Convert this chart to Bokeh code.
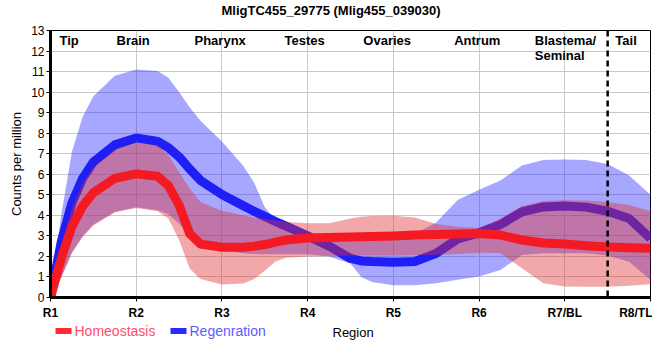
from bokeh.plotting import figure
from bokeh.layouts import column
from bokeh.models import Range1d, FixedTicker, Span, ColumnDataSource
from bokeh.embed import file_html
from bokeh.resources import INLINE
from bokeh.core.properties import value

# ---------------- data ----------------
title_text = "MligTC455_29775 (Mlig455_039030)"
x_title = "Region"
y_title = "Counts per million"
tick_labels = ["R1", "R2", "R3", "R4", "R5", "R6", "R7/BL", "R8/TL"]
region_names = ["Tip", "Brain", "Pharynx", "Testes", "Ovaries", "Antrum", "Blastema/\nSeminal", "Tail"]
series_names = ["Homeostasis", "Regenration"]

region_pos = [0, 0.125, 0.25, 0.375, 0.5, 0.75, 1.0, 1.25, 1.375, 1.5, 1.625, 1.75,
              2.0, 2.25, 2.375, 2.5, 2.625, 2.75, 3.0, 3.25, 3.5, 3.625, 3.75, 4.0,
              4.25, 4.5, 4.75, 5.0, 5.25, 5.5, 5.75, 6.0, 6.25, 6.5, 6.75, 7.0]

homeo_mean = [0, 1.9, 3.45, 4.45, 5.1, 5.8, 6.02, 5.9, 5.45, 4.5, 3.1, 2.6,
              2.45, 2.45, 2.5, 2.58, 2.7, 2.8, 2.9, 2.92, 2.95, 2.96, 2.97, 3.0,
              3.04, 3.07, 3.09, 3.12, 3.04, 2.8, 2.65, 2.6, 2.52, 2.46, 2.42, 2.4]
homeo_upper = [0, 2.5, 4.35, 5.55, 6.35, 7.2, 7.55, 7.4, 6.95, 6.1, 5.3, 4.65,
               4.22, 4.0, 3.9, 3.82, 3.75, 3.68, 3.62, 3.62, 3.85, 3.93, 3.97, 3.98,
               3.9, 3.58, 3.44, 3.38, 3.85, 4.46, 4.7, 4.73, 4.72, 4.65, 4.5, 4.2]
homeo_lower = [0, 0.95, 2.15, 2.95, 3.5, 4.14, 4.36, 4.2, 3.85, 2.8, 1.4, 0.9,
               0.63, 0.68, 0.9, 1.3, 1.75, 1.94, 2.0, 2.02, 2.04, 2.04, 2.04, 2.04,
               2.06, 2.08, 2.12, 2.18, 2.15, 1.42, 0.69, 0.53, 0.52, 0.52, 0.57, 0.65]

regen_mean = [0, 2.7, 4.6, 5.8, 6.6, 7.43, 7.77, 7.6, 7.3, 6.85, 6.25, 5.7,
              5.02, 4.47, 4.2, 3.95, 3.7, 3.47, 3.0, 2.5, 1.9, 1.78, 1.75, 1.72,
              1.75, 2.15, 2.85, 3.15, 3.55, 4.17, 4.41, 4.46, 4.4, 4.2, 3.85, 2.88]
regen_upper = [0, 4.0, 7.1, 8.8, 9.8, 10.8, 11.1, 11.03, 10.7, 10.0, 9.25, 8.6,
               7.6, 6.4, 5.6, 4.4, 3.75, 3.45, 3.15, 3.05, 3.0, 3.0, 3.0, 3.0,
               3.1, 3.65, 4.75, 5.25, 5.7, 6.43, 6.7, 6.72, 6.7, 6.5, 5.94, 5.0]
regen_lower = [0, 1.0, 2.2, 3.0, 3.55, 4.18, 4.4, 4.25, 4.05, 3.6, 3.0, 2.6,
               2.3, 2.15, 2.12, 2.1, 2.1, 2.1, 2.1, 2.0, 1.65, 1.0, 0.75, 0.6,
               0.6, 0.69, 0.86, 1.02, 1.34, 2.07, 2.15, 2.15, 2.15, 2.04, 1.74, 0.86]

tail_boundary = 6.5

# ---------------- layout / style ----------------
FONT = "Liberation Sans"
RED_LINE, BLUE_LINE = "#F41A24", "#1E1EF5"
label_x = [0.105, 0.77, 1.68, 2.73, 3.65, 4.71, 5.65, 6.59]
label_y = [12.88] * len(region_names)
W = 652
FRAME_L, FRAME_R = 50, 650   # frame edges in pixels; strips share them


def strip_fig(h):
    f = figure(width=W, height=h, output_backend="svg", toolbar_location=None,
               x_range=Range1d(FRAME_L, FRAME_R), y_range=Range1d(h, 0),
               x_axis_location=None, y_axis_location=None,
               min_border_left=FRAME_L, min_border_right=W - FRAME_R,
               min_border_top=0, min_border_bottom=0, outline_line_color=None)
    f.grid.visible = False
    f.background_fill_color = "white"
    f.border_fill_color = "white"
    return f


# title strip
top = strip_fig(18)
top.text(x=[330.5], y=[9.5], text=[title_text], text_font=value(FONT), text_font_size="13px",
         text_font_style="bold", text_color="black", text_align="center", text_baseline="middle")

p = figure(width=W, height=304, output_backend="svg", toolbar_location=None,
           x_range=Range1d(0, len(tick_labels) - 1), y_range=Range1d(0, 13),
           min_border_left=FRAME_L, min_border_right=W - FRAME_R,
           min_border_top=12, min_border_bottom=23)

p.background_fill_color = "white"
p.border_fill_color = "white"
p.outline_line_color = "black"
p.outline_line_width = 1

# grids
p.xgrid.ticker = FixedTicker(ticks=list(range(len(tick_labels))))
p.ygrid.ticker = FixedTicker(ticks=list(range(14)))
p.grid.grid_line_color = "#C8C8C8"
p.grid.grid_line_width = 1

# bands and means
p.varea(x=region_pos, y1=regen_lower, y2=regen_upper, fill_color="#3333FF", fill_alpha=0.43)
p.line(region_pos, regen_mean, line_color=BLUE_LINE, line_width=9, line_join="round")
p.varea(x=region_pos, y1=homeo_lower, y2=homeo_upper, fill_color="#E03030", fill_alpha=0.42)
p.line(region_pos, homeo_mean, line_color=RED_LINE, line_width=9, line_join="round")

p.add_layout(Span(location=tail_boundary, dimension="height", line_color="black",
                  line_width=2.5, line_dash="6 4"))

# region labels
src = ColumnDataSource(dict(x=label_x, y=label_y, t=region_names))
p.text(x="x", y="y", text="t", source=src, text_font=value(FONT), text_font_size="13px",
       text_font_style="bold", text_color="black", text_align="left", text_baseline="top",
       text_line_height=1.0)

# axes
p.xaxis.ticker = FixedTicker(ticks=list(range(len(tick_labels))))
p.xaxis.major_label_overrides = {i: lab for i, lab in enumerate(tick_labels)}
p.yaxis.ticker = FixedTicker(ticks=list(range(14)))
for ax in (p.xaxis[0], p.yaxis[0]):
    ax.axis_line_width = 3
    ax.axis_line_color = "black"
    ax.major_tick_out = 4
    ax.major_tick_in = 0
    ax.minor_tick_out = 0
    ax.minor_tick_in = 0
    ax.major_tick_line_color = "black"
    ax.major_label_text_font = FONT
    ax.major_label_text_color = "black"
    ax.axis_label_text_font = FONT
    ax.axis_label_text_font_style = "normal"
    ax.axis_label_text_font_size = "13px"
    ax.axis_label_text_color = "black"

p.xaxis.major_label_text_font_size = "12px"
p.xaxis.major_label_text_font_style = "bold"
p.xaxis.major_label_standoff = 4

p.yaxis.axis_label = y_title
p.yaxis.major_label_text_font_size = "12px"
p.yaxis.major_label_standoff = 2
p.yaxis.axis_label_standoff = 4

# bottom strip: legend + x-axis title (pixel coordinates, y downwards)
bottom = strip_fig(30)
sw_left = [55, 170]
bottom.quad(left=sw_left, right=[x + 16 for x in sw_left], top=[5.5, 5.5], bottom=[11.5, 11.5],
            fill_color=["#FF2A36", "#2A2AFF"], line_color=None)
leg_src = ColumnDataSource(dict(x=[74, 189], y=[8.5, 8.5], t=series_names,
                                c=["#FF4D6A", "#5B5BFF"]))
bottom.text(x="x", y="y", text="t", text_color="c", source=leg_src, text_font=value(FONT),
            text_font_size="14px", text_align="left", text_baseline="middle")
bottom.text(x=[332], y=[9.5], text=[x_title], text_font=value(FONT), text_font_size="13px",
            text_color="black", text_align="left", text_baseline="middle")

layout = column(top, p, bottom, spacing=0)
open("out.html", "w").write(file_html(layout, INLINE))
